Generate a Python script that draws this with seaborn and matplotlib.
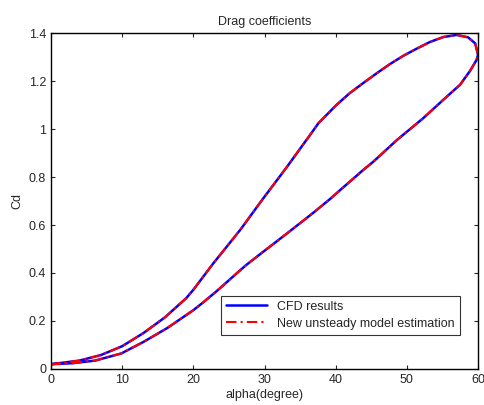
import numpy as np
import pandas as pd
import matplotlib
matplotlib.use("Agg")
import matplotlib.pyplot as plt
import seaborn as sns

# lower branch (alpha going up)
alpha_up = [0, 3, 6.2, 9.9, 13, 16.3, 20, 21.4, 23.3, 26.6, 27.5, 29.8, 33.6,
            36.9, 39.2, 40.8, 43.9, 45.3, 48.6, 52.3, 55.1, 57.5, 58.9, 59.8, 60.0]
cd_up = [0.02, 0.024, 0.035, 0.065, 0.113, 0.17, 0.245, 0.278, 0.325, 0.412, 0.435,
         0.488, 0.575, 0.652, 0.708, 0.75, 0.83, 0.864, 0.954, 1.045, 1.121, 1.185,
         1.243, 1.288, 1.31]

# upper branch (alpha going back down)
alpha_down = [60.0, 59.6, 58.6, 57.0, 55.1, 53.2, 51.4, 49.5, 47.6, 45.8, 43.9,
              42.0, 40.1, 37.6, 36.4, 33.1, 29.8, 26.6, 22.8, 20, 19, 16, 13, 10,
              7, 4, 0]
cd_down = [1.31, 1.357, 1.382, 1.392, 1.383, 1.362, 1.335, 1.305, 1.27, 1.233,
           1.192, 1.15, 1.10, 1.025, 0.975, 0.84, 0.71, 0.58, 0.44, 0.33, 0.295,
           0.215, 0.15, 0.095, 0.058, 0.035, 0.02]

# model estimation sits right on top of the CFD curve
alpha_model = alpha_up + alpha_down
cd_model = cd_up + cd_down

df_cfd = pd.DataFrame({'alpha': alpha_up + alpha_down, 'Cd': cd_up + cd_down})
df_model = pd.DataFrame({'alpha': alpha_model, 'Cd': cd_model})

sns.set_style("ticks")
plt.rcParams['font.family'] = ['Liberation Sans', 'DejaVu Sans']
plt.rcParams['xtick.direction'] = 'in'
plt.rcParams['ytick.direction'] = 'in'

fig = plt.figure(figsize=(4.84, 4.05), dpi=100)
ax = fig.add_axes([0.1054, 0.0889, 0.8822, 0.8296])

sns.lineplot(data=df_cfd, x='alpha', y='Cd', sort=False, estimator=None,
             color='#0000ff', lw=1.8, ax=ax, label='CFD results')
sns.lineplot(data=df_model, x='alpha', y='Cd', sort=False, estimator=None,
             color='#ff0000', lw=1.5, ax=ax, label='New unsteady model estimation')
ax.lines[1].set_dashes([5, 2, 1, 2])

ax.set_xlim(0, 60)
ax.set_ylim(0, 1.4)
ax.set_xticks(np.arange(0, 61, 10))
ax.set_yticks(np.arange(0, 1.41, 0.2))
ax.set_yticklabels([f'{v:g}' for v in np.round(np.arange(0, 1.41, 0.2), 1)])
ax.tick_params(top=True, right=True, labelsize=9, length=3, width=0.8)
for s in ax.spines.values():
    s.set_linewidth(1.0)
    s.set_color('black')

ax.set_title('Drag coefficients', fontsize=9)
ax.set_xlabel('alpha(degree)', fontsize=9, labelpad=2)
ax.set_ylabel('Cd', fontsize=9)

leg = ax.legend(loc='lower right', bbox_to_anchor=(0.972, 0.083), fontsize=9,
                frameon=True, fancybox=False, handlelength=3.3, borderpad=0.4,
                labelspacing=0.4)
leg.get_frame().set_edgecolor('black')
leg.get_frame().set_linewidth(0.8)

plt.savefig('out.png', dpi=100)
